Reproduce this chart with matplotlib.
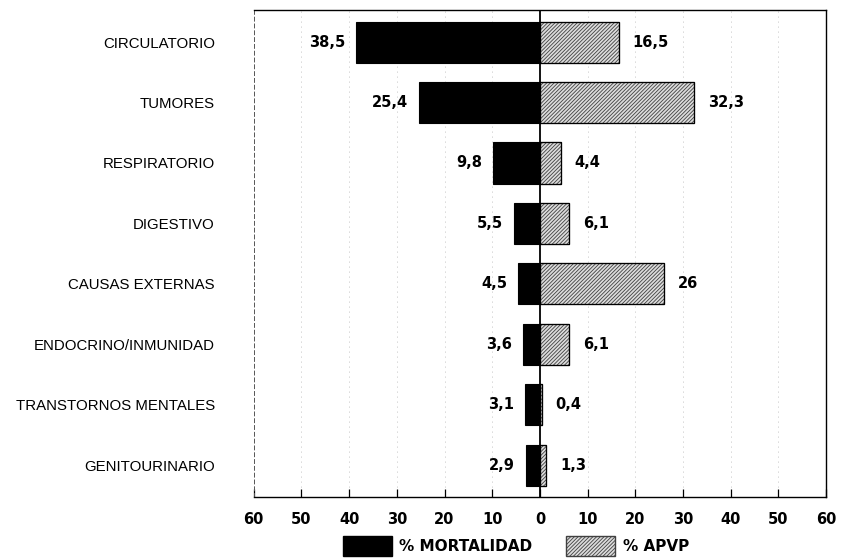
import numpy as np
import matplotlib
matplotlib.use('Agg')
import matplotlib.pyplot as plt
from matplotlib.patches import Patch

# Datos (% mortalidad y % APVP por grupo de causas)
causas = ['CIRCULATORIO', 'TUMORES', 'RESPIRATORIO', 'DIGESTIVO',
          'CAUSAS EXTERNAS', 'ENDOCRINO/INMUNIDAD', 'TRANSTORNOS MENTALES',
          'GENITOURINARIO']
mortalidad = [38.5, 25.4, 9.8, 5.5, 4.5, 3.6, 3.1, 2.9]
apvp = [16.5, 32.3, 4.4, 6.1, 26, 6.1, 0.4, 1.3]
ticks = [-60, -50, -40, -30, -20, -10, 0, 10, 20, 30, 40, 50, 60]
tick_labels = ['60', '50', '40', '30', '20', '10', '0', '10', '20', '30', '40', '50', '60']


def fmt(v):
    s = f"{v:.1f}".replace('.', ',')
    return s[:-2] if s.endswith(',0') else s


plt.rcParams['hatch.linewidth'] = 0.6
labels_font = ['Liberation Sans', 'DejaVu Sans']

fig = plt.figure(figsize=(8.43, 5.58), dpi=100)
ax = fig.add_axes([0.301, 0.109, 0.679, 0.873])

y = np.arange(len(causas))
h = 0.68
hatch_pat = '/////////'

# gridlines punteadas
for t in ticks:
    if t in (0, -60, 60):
        continue
    ax.axvline(t, color='#b0b0b0', lw=0.6, ls=(0, (1, 5)), zorder=0)

ax.barh(y, [-m for m in mortalidad], height=h, color='black',
        edgecolor='black', lw=0.8, zorder=2)
ax.barh(y, apvp, height=h, color='#dcdcdc', edgecolor='#404040',
        hatch=hatch_pat, lw=0.8, zorder=2)
ax.barh(y, apvp, height=h, fill=False, edgecolor='black', lw=0.9, zorder=3)
ax.axvline(0, color='black', lw=1.3, zorder=4)

for i in range(len(causas)):
    ax.annotate(fmt(mortalidad[i]), (-mortalidad[i], y[i]), xytext=(-8, 0),
                textcoords='offset points', ha='right', va='center',
                fontsize=10.5, fontweight='bold')
    ax.annotate(fmt(apvp[i]), (apvp[i], y[i]), xytext=(10, 0),
                textcoords='offset points', ha='left', va='center',
                fontsize=10.5, fontweight='bold')

ax.set_xlim(-60, 60)
ax.set_ylim(len(causas) - 0.47, -0.53)
ax.set_xticks(ticks)
ax.set_xticklabels(tick_labels, fontsize=10.5, fontweight='bold')
ax.set_yticks(y)
ax.set_yticklabels(causas, family=labels_font, fontsize=10.8)
ax.tick_params(axis='x', direction='in', length=6, width=0.9, pad=11)
ax.tick_params(axis='y', length=0, pad=28)

for s in ('top', 'right', 'bottom'):
    ax.spines[s].set_linewidth(1.0)
ax.spines['left'].set_linestyle((0, (4, 3)))
ax.spines['left'].set_color('#555555')
ax.spines['left'].set_linewidth(0.7)

handles = [Patch(facecolor='black', edgecolor='black'),
           Patch(facecolor='#dcdcdc', edgecolor='#404040', hatch=hatch_pat)]
fig.legend(handles, ['% MORTALIDAD', '% APVP'], loc='center',
           bbox_to_anchor=(0.612, 0.022), ncol=2, frameon=False,
           prop={'weight': 'bold', 'size': 11}, handlelength=3.2,
           handleheight=1.6, columnspacing=2.2, handletextpad=0.5)

fig.savefig('out.png', dpi=100)
